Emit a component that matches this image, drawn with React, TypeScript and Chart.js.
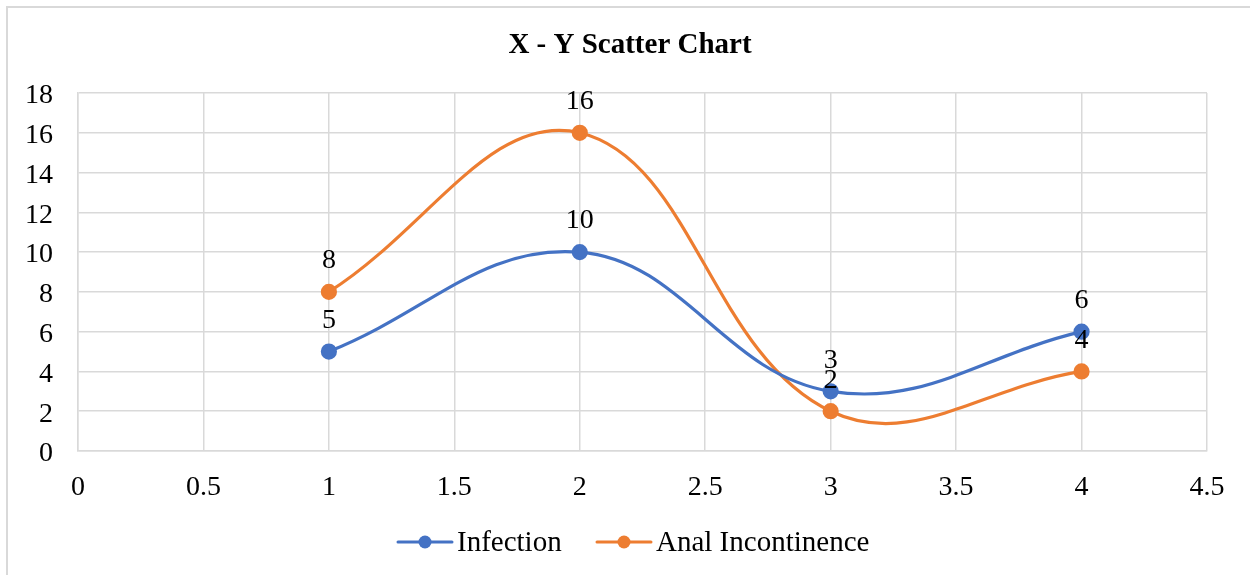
import React, { useEffect, useRef } from "react";
import { Chart, registerables } from "chart.js";

Chart.register(...registerables);

const infectionX = [1, 2, 3, 4];
const infectionY = [5, 10, 3, 6];
const analX = [1, 2, 3, 4];
const analY = [8, 16, 2, 4];
const seriesNames = ["Infection", "Anal Incontinence"];
const seriesColors = ["#4472C4", "#ED7D31"];
const titleText = "X - Y Scatter Chart";

const FONT = "'Liberation Serif', 'Times New Roman', serif";

const decorPlugin = {
  id: "decor",
  beforeDraw(chart: any) {
    const ctx = chart.ctx;
    ctx.save();
    ctx.fillStyle = "#ffffff";
    ctx.fillRect(0, 0, chart.width, chart.height);
    ctx.strokeStyle = "#d9d9d9";
    ctx.lineWidth = 2;
    ctx.beginPath();
    ctx.moveTo(7, chart.height + 5);
    ctx.lineTo(7, 7);
    ctx.lineTo(chart.width + 5, 7);
    ctx.stroke();
    ctx.restore();
  },
  afterDatasetsDraw(chart: any) {
    const ctx = chart.ctx;
    ctx.save();
    ctx.fillStyle = "#000";
    ctx.font = `28px ${FONT}`;
    ctx.textAlign = "center";
    ctx.textBaseline = "middle";
    chart.data.datasets.forEach((ds: any, i: number) => {
      const meta = chart.getDatasetMeta(i);
      meta.data.forEach((pt: any, j: number) => {
        const v = ds.data[j].y;
        ctx.fillText(String(v), pt.x, pt.y - 31);
      });
    });
    ctx.restore();
  },
  afterDraw(chart: any) {
    const ctx = chart.ctx;
    ctx.save();
    // title
    ctx.fillStyle = "#000";
    ctx.font = `bold 29px ${FONT}`;
    ctx.textAlign = "center";
    ctx.textBaseline = "middle";
    ctx.fillText(titleText, 630, 46);
    // legend
    ctx.font = `29px ${FONT}`;
    ctx.textAlign = "left";
    const ly = 542;
    const items = [
      { x0: 398, name: seriesNames[0], color: seriesColors[0] },
      { x0: 597, name: seriesNames[1], color: seriesColors[1] },
    ];
    items.forEach((it) => {
      ctx.strokeStyle = it.color;
      ctx.lineWidth = 3;
      ctx.lineCap = "round";
      ctx.beginPath();
      ctx.moveTo(it.x0, ly);
      ctx.lineTo(it.x0 + 54, ly);
      ctx.stroke();
      ctx.fillStyle = it.color;
      ctx.beginPath();
      ctx.arc(it.x0 + 27, ly, 6.5, 0, Math.PI * 2);
      ctx.fill();
      ctx.fillStyle = "#000";
      ctx.fillText(it.name, it.x0 + 59, ly + 1);
    });
    ctx.restore();
  },
};

export default function App() {
  const ref = useRef<HTMLCanvasElement | null>(null);
  useEffect(() => {
    document.body.style.margin = "0";
    document.body.style.overflow = "hidden";
    const canvas = ref.current!;
    const chart = new Chart(canvas, {
      type: "scatter",
      data: {
        datasets: [
          {
            label: seriesNames[0],
            data: infectionX.map((x, i) => ({ x, y: infectionY[i] })),
            borderColor: seriesColors[0],
            backgroundColor: seriesColors[0],
            showLine: true,
            tension: 0.4,
            borderWidth: 3.2,
            pointRadius: 6.5,
            pointHoverRadius: 6.5,
          },
          {
            label: seriesNames[1],
            data: analX.map((x, i) => ({ x, y: analY[i] })),
            borderColor: seriesColors[1],
            backgroundColor: seriesColors[1],
            showLine: true,
            tension: 0.4,
            borderWidth: 3.2,
            pointRadius: 6.5,
            pointHoverRadius: 6.5,
          },
        ],
      },
      options: {
        responsive: false,
        animation: false,
        layout: { padding: { left: 0, right: 43, top: 93, bottom: 0 } },
        plugins: {
          legend: { display: false },
          title: { display: false },
          tooltip: { enabled: false },
        },
        scales: {
          x: {
            type: "linear",
            min: 0,
            max: 4.5,
            ticks: {
              stepSize: 0.5,
              color: "#000",
              font: { family: FONT, size: 28 },
              padding: 20,
              maxRotation: 0,
              callback: (v: any) => String(v),
            },
            grid: { color: "#d9d9d9", lineWidth: 1.5, drawTicks: false },
            border: { color: "#d9d9d9", width: 1.5 },
            afterFit: (s: any) => {
              s.height = 124;
            },
          },
          y: {
            min: 0,
            max: 18,
            ticks: {
              stepSize: 2,
              color: "#000",
              font: { family: FONT, size: 28 },
              padding: 25,
              labelOffset: 3,
            },
            grid: { color: "#d9d9d9", lineWidth: 1.5, drawTicks: false },
            border: { color: "#d9d9d9", width: 1.5 },
            afterFit: (s: any) => {
              s.width = 78;
            },
          },
        },
      },
      plugins: [decorPlugin],
    });
    return () => chart.destroy();
  }, []);
  return (
    <canvas
      ref={ref}
      width={1250}
      height={575}
      style={{ display: "block", width: 1250, height: 575 }}
    />
  );
}
